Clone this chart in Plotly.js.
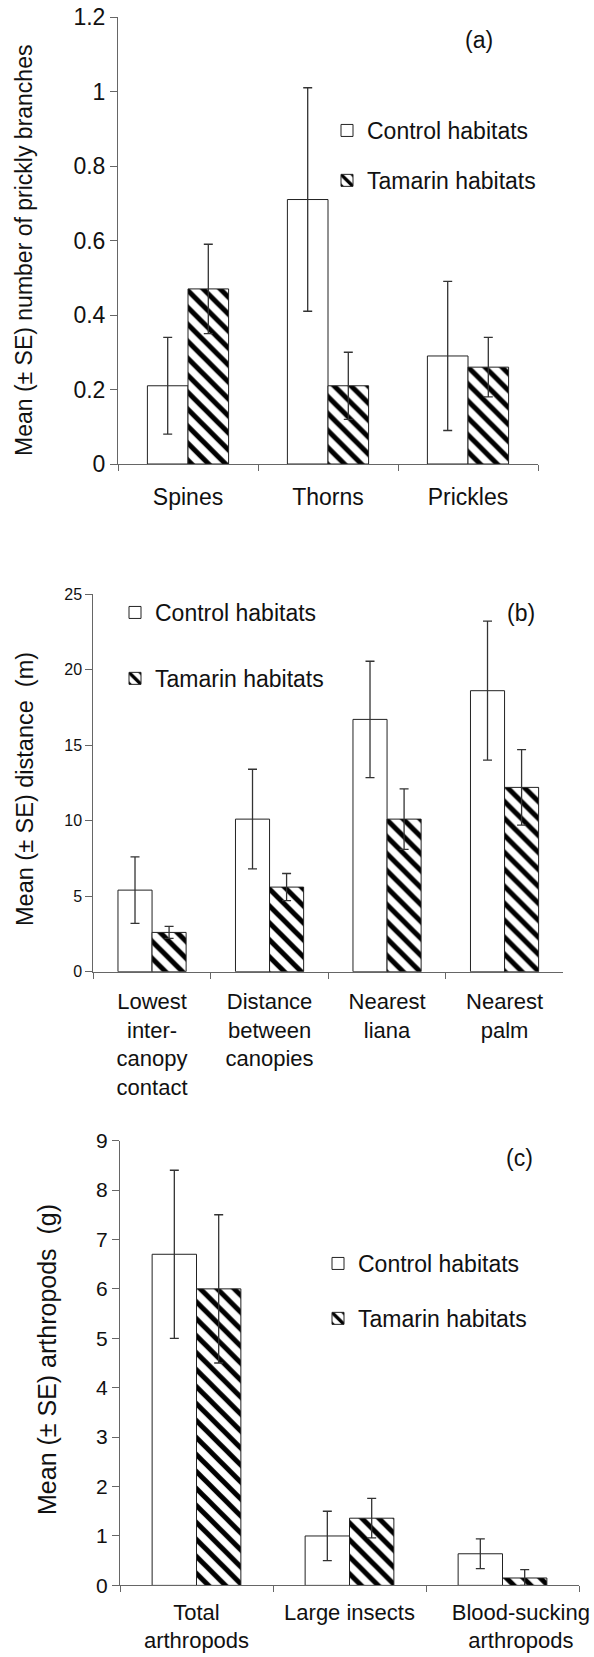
<!DOCTYPE html>
<html>
<head>
<meta charset="utf-8">
<script src="https://cdn.plot.ly/plotly-3.0.1.min.js"></script>
<style>
  html, body { margin: 0; padding: 0; background: #fff; }
  #chart { width: 594px; height: 1657px; }
</style>
</head>
<body>
<div id="chart"></div>
<script>
// ---------- data ----------
const seriesNames = ['Control habitats', 'Tamarin habitats'];

// (a) prickly branches
const catsA = ['Spines', 'Thorns', 'Prickles'];
const controlA = [0.21, 0.71, 0.29];
const controlA_se = [0.13, 0.30, 0.20];
const tamarinA = [0.47, 0.21, 0.26];
const tamarinA_se = [0.12, 0.09, 0.08];

// (b) distances (m)
const catsB = ['Lowest<br>inter-<br>canopy<br>contact', 'Distance<br>between<br>canopies', 'Nearest<br>liana', 'Nearest<br>palm'];
const controlB = [5.4, 10.1, 16.7, 18.6];
const controlB_se = [2.2, 3.3, 3.85, 4.6];
const tamarinB = [2.6, 5.6, 10.1, 12.2];
const tamarinB_se = [0.4, 0.9, 2.0, 2.5];

// (c) arthropods (g)
const catsC = ['Total<br>arthropods', 'Large insects', 'Blood-sucking<br>arthropods'];
const controlC = [6.7, 1.0, 0.64];
const controlC_se = [1.7, 0.5, 0.3];
const tamarinC = [6.0, 1.36, 0.15];
const tamarinC_se = [1.5, 0.4, 0.17];
const tamarinC_seMinus = [1.5, 0.4, 0.15];

// ---------- styling / layout helpers ----------
const W = 594, H = 1657;
const fx = p => p / W;
const fy = p => 1 - p / H;
const FONT = 'Liberation Sans, Arial, Helvetica, sans-serif';
const TXT = '#111';
const AX = '#666';

const pattern = { shape: '\\', fgcolor: '#000', bgcolor: '#fff', size: 12, solidity: 0.42 };
const outline = { color: '#222', width: 1 };
const errStyle = { color: '#333', thickness: 1.3, width: 4.5 };

function ctrl(x, y, se, xa, ya, leg, grp) {
  return { type: 'bar', name: seriesNames[0], x: x, y: y, xaxis: xa, yaxis: ya,
    legend: leg, legendgroup: grp + 'c',
    marker: { color: '#fff', line: outline },
    error_y: Object.assign({ type: 'data', array: se, visible: true }, errStyle),
    hoverinfo: 'skip' };
}
function tam(x, y, se, seMinus, xa, ya, leg, grp) {
  const e = Object.assign({ type: 'data', array: se, visible: true }, errStyle);
  if (seMinus) { e.symmetric = false; e.arrayminus = seMinus; }
  return { type: 'bar', name: seriesNames[1], x: x, y: y, xaxis: xa, yaxis: ya,
    legend: leg, legendgroup: grp + 't',
    marker: { color: '#fff', line: outline, pattern: pattern },
    error_y: e, hoverinfo: 'skip' };
}

// third label in (c) sits a little right of its slot in the original
const PAD = '\u00a0'.repeat(6);
const ticktextC = catsC.map((c, i) => i === 2 ? c.split('<br>').map(s => PAD + s).join('<br>') : c);

const traces = [
  ctrl(catsA, controlA, controlA_se, 'x', 'y', 'legend', 'a'),
  tam(catsA, tamarinA, tamarinA_se, null, 'x', 'y', 'legend', 'a'),
  ctrl(catsB, controlB, controlB_se, 'x2', 'y2', 'legend2', 'b'),
  tam(catsB, tamarinB, tamarinB_se, null, 'x2', 'y2', 'legend2', 'b'),
  ctrl(catsC, controlC, controlC_se, 'x3', 'y3', 'legend3', 'c'),
  tam(catsC, tamarinC, tamarinC_se, tamarinC_seMinus, 'x3', 'y3', 'legend3', 'c'),
];

function xAxis(x0, x1, anchor, n, fs, standoff, extra) {
  return Object.assign({
    domain: [fx(x0), fx(x1)], anchor: anchor, type: 'category', range: [-0.5, n - 0.5],
    tickson: 'boundaries', ticks: 'outside', ticklen: 6, tickcolor: AX, tickwidth: 1,
    showline: true, linecolor: AX, linewidth: 1, showgrid: false, zeroline: false,
    tickangle: 0, ticklabelstandoff: standoff,
    tickfont: { family: FONT, size: fs, color: TXT }, fixedrange: true
  }, extra || {});
}
function yAxis(yTop, yBot, anchor, max, dt, fs) {
  return {
    domain: [fy(yBot), fy(yTop)], anchor: anchor, range: [0, max], dtick: dt, tick0: 0,
    ticks: 'outside', ticklen: 7, tickcolor: AX, tickwidth: 1,
    showline: true, linecolor: AX, linewidth: 1, showgrid: false, zeroline: false,
    tickfont: { family: FONT, size: fs, color: TXT }, fixedrange: true
  };
}
function legendAt(xp, yp, gap) {
  return { x: fx(xp), y: fy(yp), xanchor: 'left', yanchor: 'top', xref: 'paper', yref: 'paper',
    bgcolor: 'rgba(0,0,0,0)', borderwidth: 0, traceorder: 'grouped', tracegroupgap: gap,
    font: { family: FONT, size: 23, color: TXT } };
}
function ann(text, xp, yp, fs, angle) {
  return { text: text, x: fx(xp), y: fy(yp), xref: 'paper', yref: 'paper',
    xanchor: 'center', yanchor: 'middle', showarrow: false, textangle: angle || 0,
    font: { family: FONT, size: fs, color: TXT } };
}

const layout = {
  width: W, height: H,
  margin: { l: 0, r: 0, t: 0, b: 0 },
  paper_bgcolor: '#fff', plot_bgcolor: 'rgba(0,0,0,0)',
  barmode: 'group', bargap: 0.42, bargroupgap: 0,
  showlegend: true,
  font: { family: FONT, color: TXT },
  xaxis: xAxis(118, 538, 'y', catsA.length, 23, 12),
  yaxis: yAxis(17, 464, 'x', 1.2, 0.2, 23),
  xaxis2: xAxis(93.3, 563.3, 'y2', catsB.length, 22, 10),
  yaxis2: yAxis(594, 971.7, 'x2', 25, 5, 16),
  xaxis3: xAxis(120, 579, 'y3', catsC.length, 22, 7, { tickmode: 'array', tickvals: catsC, ticktext: ticktextC }),
  yaxis3: yAxis(1140.6, 1585.4, 'x3', 9, 1, 21),
  legend: legendAt(327, 109, 17),
  legend2: legendAt(115, 591, 33),
  legend3: legendAt(318, 1242, 22),
  annotations: [
    ann('(a)', 479, 40, 23),
    ann('(b)', 521, 613, 23),
    ann('(c)', 519, 1158, 23),
    ann('Mean (± SE) number of prickly branches', 24, 251, 23, -90),
    ann('Mean (± SE) distance\u00a0 (m)', 25, 789, 23.5, -90),
    ann('Mean (± SE) arthropods\u00a0 (g)', 47, 1360, 25, -90),
  ]
};

Plotly.newPlot('chart', traces, layout, { displayModeBar: false, staticPlot: true });
</script>
</body>
</html>
